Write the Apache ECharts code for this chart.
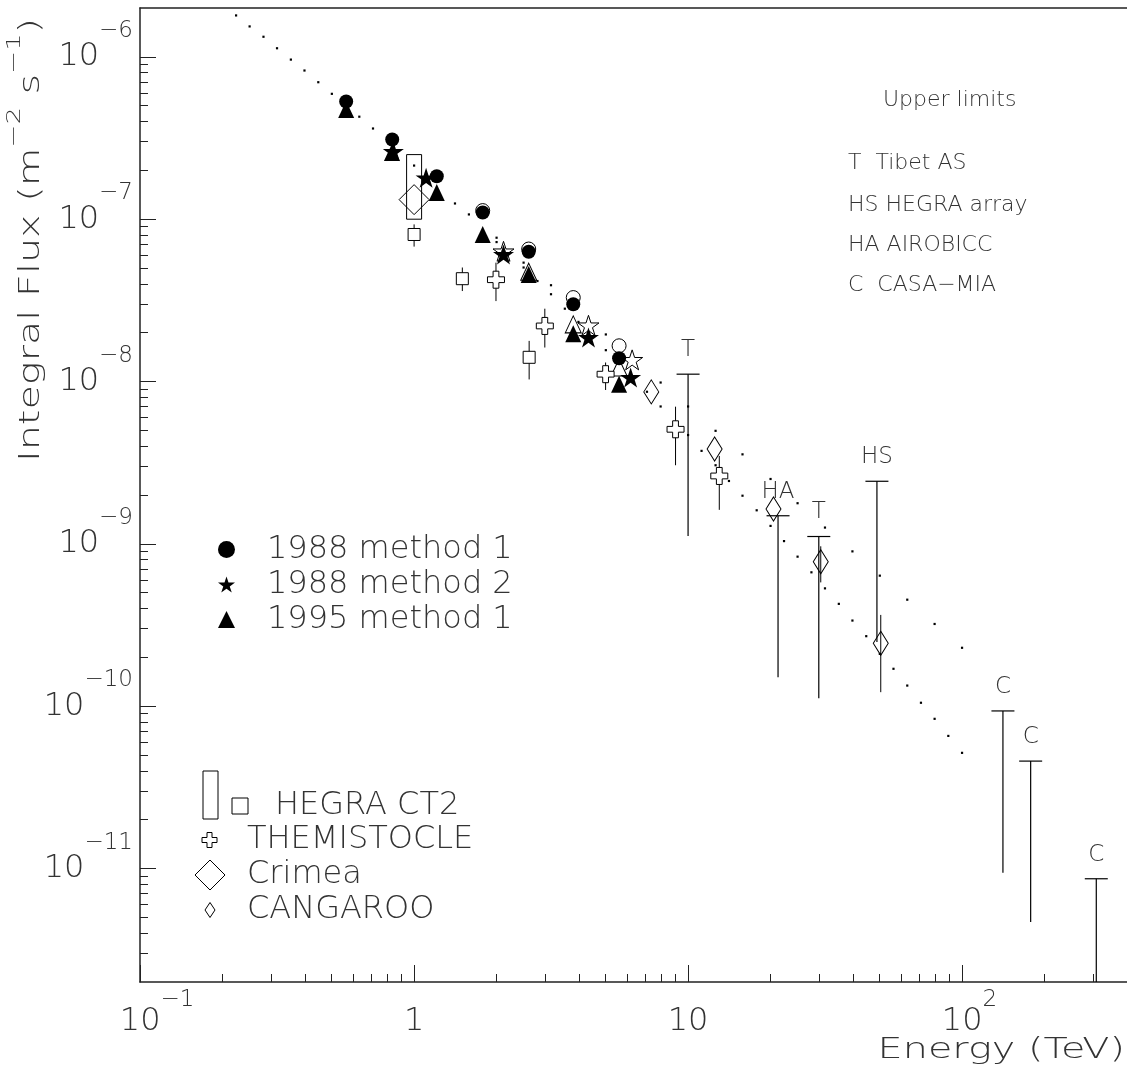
<!DOCTYPE html>
<html>
<head>
<meta charset="utf-8">
<title>Integral flux vs energy</title>
<script src="https://cdn.jsdelivr.net/npm/echarts@6.0.0/dist/echarts.min.js"></script>
<style>
  html, body { margin: 0; padding: 0; background: #fff; }
  #chart { width: 1127px; height: 1076px; }
</style>
</head>
<body>
<div id="chart"></div>
<script>
var FONT = "'DejaVu Sans', sans-serif"
var INK = '#333'

// axis ticks
var xMajor = [0.1, 1, 10, 100]
var xMinor = [0.2, 0.3, 0.4, 0.5, 0.6, 0.7, 0.8, 0.9, 2, 3, 4, 5, 6, 7, 8, 9,
	20, 30, 40, 50, 60, 70, 80, 90, 200, 300, 400]
var yMajor = [1e-11, 1e-10, 1e-9, 1e-8, 1e-7, 1e-6]
var yMinor = [3e-12, 4e-12, 5e-12, 6e-12, 7e-12, 8e-12, 9e-12,
	2e-11, 3e-11, 4e-11, 5e-11, 6e-11, 7e-11, 8e-11, 9e-11,
	2e-10, 3e-10, 4e-10, 5e-10, 6e-10, 7e-10, 8e-10, 9e-10,
	2e-9, 3e-9, 4e-9, 5e-9, 6e-9, 7e-9, 8e-9, 9e-9,
	2e-8, 3e-8, 4e-8, 5e-8, 6e-8, 7e-8, 8e-8, 9e-8,
	2e-7, 3e-7, 4e-7, 5e-7, 6e-7, 7e-7, 8e-7, 9e-7]

// dotted fits (E in TeV, integral flux in m^-2 s^-1)
var curveE = [0.224, 0.251, 0.282, 0.316, 0.355, 0.398, 0.447, 0.501, 0.631, 0.708,
	1.0, 1.41, 1.585, 2.0, 2.51, 2.82, 3.16, 3.55, 3.98, 5.01, 7.08, 7.94,
	10.0, 11.2, 12.6, 14.1, 15.8, 17.8, 20.0, 22.4, 25.1, 28.2, 31.6, 35.5,
	39.8, 44.7, 50.1, 56.2, 63.1, 70.8, 79.4, 89.1, 100]
var curveF = [1.80e-6, 1.54e-6, 1.33e-6, 1.13e-6, 9.62e-7, 8.24e-7, 6.98e-7, 5.92e-7, 4.28e-7, 3.62e-7,
	2.14e-7, 1.25e-7, 1.07e-7, 7.23e-8, 5.04e-8, 4.16e-8, 3.45e-8, 2.81e-8, 2.33e-8, 1.56e-8, 8.65e-9, 7.02e-9,
	4.68e-9, 3.74e-9, 3.05e-9, 2.44e-9, 1.98e-9, 1.61e-9, 1.29e-9, 1.04e-9, 8.34e-10, 6.68e-10, 5.32e-10, 4.27e-10,
	3.37e-10, 2.70e-10, 2.10e-10, 1.70e-10, 1.34e-10, 1.05e-10, 8.36e-11, 6.56e-11, 5.16e-11]
var lineE = [2.0, 2.51, 3.16, 5.01, 7.94, 10.0, 12.6, 15.8, 20.0, 25.1, 31.6, 39.8, 50.1, 63.1, 79.4, 100]
var lineF = [7.69e-8, 5.40e-8, 3.92e-8, 1.95e-8, 9.86e-9, 7.02e-9, 4.97e-9, 3.56e-9, 2.51e-9, 1.78e-9,
	1.26e-9, 8.99e-10, 6.37e-10, 4.53e-10, 3.21e-10, 2.29e-10]

// this work
var m1E = [0.565, 0.832, 1.21, 1.78, 2.62, 3.81, 5.60]
var m1F = [5.31e-7, 3.10e-7, 1.84e-7, 1.10e-7, 6.3e-8, 2.99e-8, 1.39e-8]
var m2E = [0.84, 1.106, 2.12, 4.33, 6.17]
var m2F = [2.62e-7, 1.80e-7, 6.07e-8, 1.87e-8, 1.06e-8]
var m3E = [0.565, 0.83, 1.21, 1.78, 2.62, 3.81, 5.60]
var m3F = [4.74e-7, 2.58e-7, 1.46e-7, 8.06e-8, 4.57e-8, 1.97e-8, 9.62e-9]
var o1E = [1.78, 2.62, 3.81, 5.60]
var o1F = [1.13e-7, 6.55e-8, 3.29e-8, 1.66e-8]
var o2E = [2.12, 4.33, 6.25]
var o2F = [6.34e-8, 2.22e-8, 1.36e-8]
var o3E = [2.62, 3.81, 5.60]
var o3F = [4.75e-8, 2.25e-8, 1.22e-8]

// other experiments
var hegraBandE = [1.0]
var hegraBandLo = [1.0e-7]
var hegraBandHi = [2.5e-7]
var hegraE = [1.0, 1.50, 2.63]
var hegraF = [8.05e-8, 4.30e-8, 1.41e-8]
var hegraLo = [6.78e-8, 3.61e-8, 1.03e-8]
var hegraHi = [9.29e-8, 5.04e-8, 1.78e-8]
var themE = [1.99, 3.0, 5.0, 9.0, 13.0]
var themF = [4.24e-8, 2.20e-8, 1.11e-8, 5.08e-9, 2.62e-9]
var themLo = [3.13e-8, 1.62e-8, 8.87e-9, 3.05e-9, 1.62e-9]
var themHi = [5.40e-8, 2.81e-8, 1.31e-8, 7.0e-9, 3.48e-9]
var crimeaE = [1.0]
var crimeaF = [1.32e-7]
var cangE = [7.34, 12.5, 20.5, 30.5, 50.5]
var cangF = [8.63e-9, 3.84e-9, 1.64e-9, 7.76e-10, 2.44e-10]
var cangBarE = [30.5, 50.5]
var cangBarLo = [5.79e-10, 1.22e-10]
var cangBarHi = [9.66e-10, 3.65e-10]

// upper limits
var ulE = [10.0, 21.3, 30.0, 48.9, 141, 178, 309]
var ulCap = [1.11e-8, 1.49e-9, 1.11e-9, 2.43e-9, 9.35e-11, 4.59e-11, 8.65e-12]
var ulLow = [1.12e-9, 1.51e-10, 1.12e-10, 2.49e-10, 9.42e-12, 4.69e-12, 2.0e-12]
var ulTag = ['T', 'HA', 'T', 'HS', 'C', 'C', 'C']

var STAR = 'path://M50,0L61.2,34.5L97.6,34.5L68.2,55.9L79.4,90.5L50,69.1L20.6,90.5L31.8,55.9L2.4,34.5L38.8,34.5Z'
var CROSS = 'path://M33,0H67V33H100V67H67V100H33V67H0V33H33Z'
var NOFILL = 'rgba(0,0,0,0)'

function pairs (xs, ys) {
	return xs.map(function (x, i) { return [x, ys[i]] })
}

function triples (xs, a, b) {
	return xs.map(function (x, i) { return [x, a[i], b[i]] })
}

function dots (name, xs, ys) {
	return {
		name: name, type: 'scatter', data: pairs(xs, ys),
		symbol: 'rect', symbolSize: 2.2, silent: true, z: 1,
		itemStyle: {color: '#000', opacity: 1}
	}
}

function marks (name, xs, ys, symbol, size, fill, z) {
	return {
		name: name, type: 'scatter', data: pairs(xs, ys),
		symbol: symbol, symbolSize: size, symbolKeepAspect: true, z: z,
		emphasis: {disabled: true},
		itemStyle: {color: fill, opacity: 1, borderColor: '#000', borderWidth: fill === '#000' ? 0 : 1}
	}
}

function bars (name, xs, lo, hi) {
	return {
		name: name, type: 'custom', data: triples(xs, lo, hi), z: 2, silent: true,
		encode: {x: 0, y: [1, 2]},
		renderItem: function (params, api) {
			var a = api.coord([api.value(0), api.value(1)])
			var b = api.coord([api.value(0), api.value(2)])
			return {
				type: 'line',
				shape: {x1: a[0], y1: a[1], x2: b[0], y2: b[1]},
				style: {stroke: '#000', lineWidth: 1}
			}
		}
	}
}

var band = {
	name: 'HEGRA CT2 band', type: 'custom', data: triples(hegraBandE, hegraBandLo, hegraBandHi),
	z: 2, silent: true, encode: {x: 0, y: [1, 2]},
	renderItem: function (params, api) {
		var lo = api.coord([api.value(0), api.value(1)])
		var hi = api.coord([api.value(0), api.value(2)])
		return {
			type: 'rect',
			shape: {x: lo[0] - 7.5, y: hi[1], width: 15, height: lo[1] - hi[1]},
			style: {fill: NOFILL, stroke: '#000', lineWidth: 1}
		}
	}
}

var limits = {
	name: 'Upper limits', type: 'custom', data: triples(ulE, ulCap, ulLow),
	z: 2, silent: true, encode: {x: 0, y: [1, 2]},
	renderItem: function (params, api) {
		var top = api.coord([api.value(0), api.value(1)])
		var bot = api.coord([api.value(0), api.value(2)])
		return {
			type: 'group',
			children: [
				{type: 'line', shape: {x1: top[0] - 11.5, y1: top[1], x2: top[0] + 11.5, y2: top[1]},
					style: {stroke: '#000', lineWidth: 1.2}},
				{type: 'line', shape: {x1: top[0], y1: top[1], x2: bot[0], y2: bot[1]},
					style: {stroke: '#000', lineWidth: 1.2}},
				{type: 'text', x: top[0], y: top[1] - 24,
					style: {text: ulTag[params.dataIndex], fill: INK, fontSize: 23, fontFamily: FONT,
						fontWeight: 200, align: 'center', verticalAlign: 'middle'}}
			]
		}
	}
}

function tickLabelY (v) {
	var e = Math.round(Math.log10(v))
	return '{b|10}{s|\u2212' + (-e) + '}'
}

function tickLabelX (v) {
	var e = Math.round(Math.log10(v))
	if (e === 0) return '{b|1}'
	if (e === 1) return '{b|10}'
	if (e < 0) return '{p1| }{b|10}{s|\u2212' + (-e) + '}'
	return '{p2| }{b|10}{s|' + e + '}'
}

var txt = {fontFamily: FONT, fontWeight: 200, color: INK}
var axisInk = {color: '#222', width: 1.5}

function label (text, x, y, size) {
	return {type: 'text', x: x, y: y,
		style: {text: text, verticalAlign: 'middle', fontSize: size, fontFamily: FONT, fontWeight: 200, fill: INK}}
}

var chart = echarts.init(document.getElementById('chart'))

chart.setOption({
	animation: false,
	backgroundColor: '#fff',
	grid: {left: 140, right: -2, top: 8, bottom: 94},
	xAxis: [
		{
			type: 'log', min: 0.0999, max: 400, position: 'bottom',
			axisLine: {show: true, onZero: false, lineStyle: axisInk},
			axisTick: {show: true, inside: true, length: 17, customValues: xMajor, lineStyle: {color: '#222', width: 1}},
			axisLabel: {
				customValues: xMajor, margin: 40, verticalAlign: 'middle', formatter: tickLabelX,
				rich: {
					b: Object.assign({fontSize: 32, lineHeight: 32}, txt),
					s: Object.assign({fontSize: 23, lineHeight: 23, padding: [0, 0, 44, 0]}, txt),
					p1: {width: 34, fontSize: 23, lineHeight: 23},
					p2: {width: 15, fontSize: 23, lineHeight: 23}
				}
			},
			splitLine: {show: false}
		},
		{
			type: 'log', min: 0.0999, max: 400, position: 'bottom',
			axisLine: {show: false},
			axisTick: {show: true, inside: true, length: 8, customValues: xMinor, lineStyle: {color: '#222', width: 1}},
			axisLabel: {show: false},
			splitLine: {show: false}
		},
		{
			type: 'log', min: 0.0999, max: 400, position: 'top',
			axisLine: {show: true, onZero: false, lineStyle: axisInk},
			axisTick: {show: false},
			axisLabel: {show: false},
			splitLine: {show: false}
		}
	],
	yAxis: [
		{
			type: 'log', min: 2e-12, max: 2e-6, position: 'left',
			axisLine: {show: true, onZero: false, lineStyle: axisInk},
			axisTick: {show: true, inside: true, length: 16, customValues: yMajor, lineStyle: {color: '#222', width: 1}},
			axisLabel: {
				customValues: yMajor, margin: 7, verticalAlign: 'middle', formatter: tickLabelY,
				rich: {
					b: Object.assign({fontSize: 32, lineHeight: 32}, txt),
					s: Object.assign({fontSize: 23, lineHeight: 23, padding: [0, 0, 52, 0]}, txt)
				}
			},
			splitLine: {show: false}
		},
		{
			type: 'log', min: 2e-12, max: 2e-6, position: 'left',
			axisLine: {show: false},
			axisTick: {show: true, inside: true, length: 8, customValues: yMinor, lineStyle: {color: '#222', width: 1}},
			axisLabel: {show: false},
			splitLine: {show: false}
		}
	],
	legend: {
		orient: 'vertical', left: 213, top: 527,
		itemWidth: 17, itemHeight: 17, itemGap: 0,
		selectedMode: false,
		textStyle: Object.assign({fontSize: 32, lineHeight: 35, padding: [0, 0, 0, 27]}, txt),
		data: [
			{name: '1988 method 1', icon: 'circle'},
			{name: '1988 method 2', icon: STAR},
			{name: '1995 method 1', icon: 'triangle'}
		]
	},
	graphic: [
		// axis titles
		{type: 'text', x: 31, y: 240, rotation: Math.PI / 2, scaleX: 1.37,
			style: {
				text: '{a|Integral Flux (m}{s|\u22122}{a| s}{s|\u22121}{a|)}',
				align: 'center', verticalAlign: 'middle',
				rich: {
					a: {fontSize: 29, lineHeight: 29, fontFamily: FONT, fontWeight: 200, fill: INK},
					s: {fontSize: 20, lineHeight: 20, padding: [0, 0, 32, 0], fontFamily: FONT, fontWeight: 200, fill: INK}
				}
			}},
		{type: 'text', x: 1125, y: 1050, scaleX: 1.37,
			style: {text: 'Energy (TeV)', align: 'right', verticalAlign: 'middle',
				fontSize: 29, fontFamily: FONT, fontWeight: 200, fill: INK}},
		// upper limit key
		label('Upper limits', 883, 100, 22),
		label('T  Tibet AS', 848, 163, 22),
		label('HS HEGRA array', 848, 205, 22),
		label('HA AIROBICC', 848, 245, 22),
		label('C  CASA\u2212MIA', 848, 285, 22),
		// key for the other experiments
		{type: 'rect', shape: {x: 203, y: 771, width: 15, height: 48}, style: {fill: NOFILL, stroke: '#000', lineWidth: 1}},
		{type: 'rect', shape: {x: 232, y: 798, width: 16, height: 16}, style: {fill: NOFILL, stroke: '#000', lineWidth: 1}},
		label('HEGRA CT2', 275, 806, 32),
		{type: 'polygon', shape: {points: [[207, 832.5], [212, 832.5], [212, 837.5], [217, 837.5], [217, 842.5], [212, 842.5],
			[212, 847.5], [207, 847.5], [207, 842.5], [202, 842.5], [202, 837.5], [207, 837.5]]},
			style: {fill: '#fff', stroke: '#000', lineWidth: 1}},
		label('THEMISTOCLE', 247, 840, 32),
		{type: 'polygon', shape: {points: [[210, 860], [225, 875], [210, 890], [195, 875]]}, style: {fill: NOFILL, stroke: '#000', lineWidth: 1}},
		label('Crimea', 247, 875, 32),
		{type: 'polygon', shape: {points: [[210, 902.5], [215, 910], [210, 917.5], [205, 910]]}, style: {fill: NOFILL, stroke: '#000', lineWidth: 1}},
		label('CANGAROO', 247, 910, 32)
	],
	series: [
		dots('fit, curved', curveE, curveF),
		dots('fit, power law', lineE, lineF),
		band,
		bars('HEGRA CT2 errors', hegraE, hegraLo, hegraHi),
		bars('THEMISTOCLE errors', themE, themLo, themHi),
		bars('CANGAROO errors', cangBarE, cangBarLo, cangBarHi),
		limits,
		marks('1988 method 1 (alt)', o1E, o1F, 'circle', 14, NOFILL, 3),
		marks('1988 method 2 (alt)', o2E, o2F, STAR, 21, NOFILL, 3),
		marks('1995 method 1 (alt)', o3E, o3F, 'triangle', [16, 17], NOFILL, 3),
		marks('HEGRA CT2', hegraE, hegraF, 'rect', 12, '#fff', 3),
		marks('THEMISTOCLE', themE, themF, CROSS, 17, '#fff', 3),
		marks('Crimea', crimeaE, crimeaF, 'diamond', 30, NOFILL, 3),
		marks('CANGAROO', cangE, cangF, 'diamond', [15, 24], NOFILL, 3),
		marks('1995 method 1', m3E, m3F, 'triangle', [16, 17], '#000', 4),
		marks('1988 method 2', m2E, m2F, STAR, 21, '#000', 5),
		marks('1988 method 1', m1E, m1F, 'circle', 14, '#000', 6)
	]
})
</script>
</body>
</html>
